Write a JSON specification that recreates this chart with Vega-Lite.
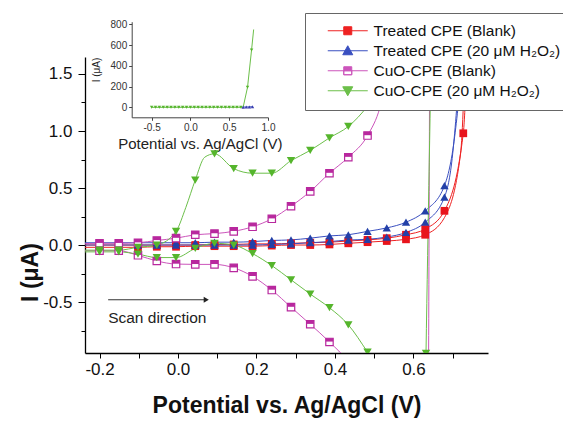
{
  "$schema": "https://vega.github.io/schema/vega-lite/v6.json",
  "width": 403,
  "height": 296,
  "autosize": {"type": "none"},
  "padding": {"left": 85, "top": 57, "right": 75, "bottom": 68},
  "background": "white",
  "config": {
    "font": "Liberation Sans",
    "view": {"stroke": null},
    "axis": {"grid": false, "domainColor": "#000", "tickColor": "#000", "labelColor": "#111", "titleColor": "#111", "labelFont": "Liberation Sans", "titleFont": "Liberation Sans", "labelFlush": false, "labelOverlap": false}
  },
  "datasets": {
    "main": [
      {"s":"A","t":"u","x":-0.25,"y":0.0,"k":0},{"s":"A","t":"u","x":-0.2,"y":0.0,"k":1},{"s":"A","t":"u","x":-0.151,"y":0.0,"k":1},{"s":"A","t":"u","x":-0.102,"y":0.0,"k":1},{"s":"A","t":"u","x":-0.054,"y":0.0,"k":1},{"s":"A","t":"u","x":-0.005,"y":0.0,"k":1},{"s":"A","t":"u","x":0.044,"y":0.0,"k":1},{"s":"A","t":"u","x":0.093,"y":0.005,"k":1},{"s":"A","t":"u","x":0.142,"y":0.005,"k":1},{"s":"A","t":"u","x":0.19,"y":0.01,"k":1},{"s":"A","t":"u","x":0.239,"y":0.01,"k":1},{"s":"A","t":"u","x":0.288,"y":0.015,"k":1},{"s":"A","t":"u","x":0.337,"y":0.02,"k":1},{"s":"A","t":"u","x":0.386,"y":0.025,"k":1},{"s":"A","t":"u","x":0.434,"y":0.035,"k":1},{"s":"A","t":"u","x":0.483,"y":0.045,"k":1},{"s":"A","t":"u","x":0.532,"y":0.06,"k":1},{"s":"A","t":"u","x":0.581,"y":0.09,"k":1},{"s":"A","t":"u","x":0.63,"y":0.14,"k":1},{"s":"A","t":"u","x":0.679,"y":0.3,"k":1},{"s":"A","t":"u","x":0.727,"y":0.98,"k":1},{"s":"A","t":"u","x":0.742,"y":2.3,"k":0},
      {"s":"A","t":"l","x":-0.25,"y":-0.02,"k":0},{"s":"A","t":"l","x":-0.2,"y":-0.02,"k":1},{"s":"A","t":"l","x":-0.151,"y":-0.02,"k":1},{"s":"A","t":"l","x":-0.102,"y":-0.02,"k":1},{"s":"A","t":"l","x":-0.054,"y":-0.015,"k":1},{"s":"A","t":"l","x":-0.005,"y":-0.015,"k":1},{"s":"A","t":"l","x":0.044,"y":-0.01,"k":1},{"s":"A","t":"l","x":0.093,"y":-0.01,"k":1},{"s":"A","t":"l","x":0.142,"y":-0.01,"k":1},{"s":"A","t":"l","x":0.19,"y":-0.01,"k":1},{"s":"A","t":"l","x":0.239,"y":-0.005,"k":1},{"s":"A","t":"l","x":0.288,"y":0.0,"k":1},{"s":"A","t":"l","x":0.337,"y":0.0,"k":1},{"s":"A","t":"l","x":0.386,"y":0.005,"k":1},{"s":"A","t":"l","x":0.434,"y":0.015,"k":1},{"s":"A","t":"l","x":0.483,"y":0.025,"k":1},{"s":"A","t":"l","x":0.532,"y":0.035,"k":1},{"s":"A","t":"l","x":0.581,"y":0.05,"k":1},{"s":"A","t":"l","x":0.63,"y":0.09,"k":1},{"s":"A","t":"l","x":0.679,"y":0.24,"k":0},{"s":"A","t":"l","x":0.72,"y":0.8,"k":0},{"s":"A","t":"l","x":0.735,"y":2.0,"k":0},
      {"s":"B","t":"u","x":-0.25,"y":0.02,"k":0},{"s":"B","t":"u","x":-0.2,"y":0.02,"k":1},{"s":"B","t":"u","x":-0.151,"y":0.02,"k":1},{"s":"B","t":"u","x":-0.102,"y":0.02,"k":1},{"s":"B","t":"u","x":-0.054,"y":0.02,"k":1},{"s":"B","t":"u","x":-0.005,"y":0.02,"k":1},{"s":"B","t":"u","x":0.044,"y":0.02,"k":1},{"s":"B","t":"u","x":0.093,"y":0.025,"k":1},{"s":"B","t":"u","x":0.142,"y":0.025,"k":1},{"s":"B","t":"u","x":0.19,"y":0.03,"k":1},{"s":"B","t":"u","x":0.239,"y":0.04,"k":1},{"s":"B","t":"u","x":0.288,"y":0.045,"k":1},{"s":"B","t":"u","x":0.337,"y":0.06,"k":1},{"s":"B","t":"u","x":0.386,"y":0.08,"k":1},{"s":"B","t":"u","x":0.434,"y":0.09,"k":1},{"s":"B","t":"u","x":0.483,"y":0.12,"k":1},{"s":"B","t":"u","x":0.532,"y":0.15,"k":1},{"s":"B","t":"u","x":0.581,"y":0.2,"k":1},{"s":"B","t":"u","x":0.63,"y":0.3,"k":1},{"s":"B","t":"u","x":0.679,"y":0.52,"k":1},{"s":"B","t":"u","x":0.705,"y":0.95,"k":0},{"s":"B","t":"u","x":0.727,"y":1.75,"k":0},{"s":"B","t":"u","x":0.74,"y":2.5,"k":0},
      {"s":"B","t":"l","x":-0.25,"y":0.0,"k":0},{"s":"B","t":"l","x":-0.2,"y":0.0,"k":1},{"s":"B","t":"l","x":-0.151,"y":0.0,"k":1},{"s":"B","t":"l","x":-0.102,"y":0.0,"k":1},{"s":"B","t":"l","x":-0.054,"y":0.0,"k":1},{"s":"B","t":"l","x":-0.005,"y":0.0,"k":1},{"s":"B","t":"l","x":0.044,"y":0.0,"k":1},{"s":"B","t":"l","x":0.093,"y":0.0,"k":1},{"s":"B","t":"l","x":0.142,"y":0.0,"k":1},{"s":"B","t":"l","x":0.19,"y":0.0,"k":1},{"s":"B","t":"l","x":0.239,"y":0.005,"k":1},{"s":"B","t":"l","x":0.288,"y":0.01,"k":1},{"s":"B","t":"l","x":0.337,"y":0.02,"k":1},{"s":"B","t":"l","x":0.386,"y":0.03,"k":1},{"s":"B","t":"l","x":0.434,"y":0.044,"k":1},{"s":"B","t":"l","x":0.483,"y":0.05,"k":1},{"s":"B","t":"l","x":0.532,"y":0.07,"k":1},{"s":"B","t":"l","x":0.581,"y":0.11,"k":1},{"s":"B","t":"l","x":0.63,"y":0.2,"k":1},{"s":"B","t":"l","x":0.679,"y":0.42,"k":1},{"s":"B","t":"l","x":0.7,"y":0.8,"k":0},{"s":"B","t":"l","x":0.72,"y":1.75,"k":0},{"s":"B","t":"l","x":0.73,"y":2.5,"k":0},
      {"s":"C","t":"u","x":-0.25,"y":0.01,"k":0},{"s":"C","t":"u","x":-0.2,"y":0.015,"k":1},{"s":"C","t":"u","x":-0.151,"y":0.015,"k":1},{"s":"C","t":"u","x":-0.102,"y":0.02,"k":1},{"s":"C","t":"u","x":-0.054,"y":0.04,"k":1},{"s":"C","t":"u","x":-0.005,"y":0.06,"k":1},{"s":"C","t":"u","x":0.044,"y":0.09,"k":1},{"s":"C","t":"u","x":0.093,"y":0.1,"k":1},{"s":"C","t":"u","x":0.142,"y":0.12,"k":1},{"s":"C","t":"u","x":0.19,"y":0.16,"k":1},{"s":"C","t":"u","x":0.239,"y":0.23,"k":1},{"s":"C","t":"u","x":0.288,"y":0.34,"k":1},{"s":"C","t":"u","x":0.337,"y":0.47,"k":1},{"s":"C","t":"u","x":0.386,"y":0.63,"k":1},{"s":"C","t":"u","x":0.434,"y":0.77,"k":1},{"s":"C","t":"u","x":0.483,"y":0.96,"k":1},{"s":"C","t":"u","x":0.515,"y":1.21,"k":0},{"s":"C","t":"u","x":0.545,"y":1.7,"k":0},{"s":"C","t":"u","x":0.58,"y":2.5,"k":0},
      {"s":"C","t":"l","x":-0.25,"y":-0.05,"k":0},{"s":"C","t":"l","x":-0.2,"y":-0.05,"k":1},{"s":"C","t":"l","x":-0.151,"y":-0.05,"k":1},{"s":"C","t":"l","x":-0.102,"y":-0.09,"k":1},{"s":"C","t":"l","x":-0.054,"y":-0.14,"k":1},{"s":"C","t":"l","x":-0.005,"y":-0.167,"k":1},{"s":"C","t":"l","x":0.044,"y":-0.17,"k":1},{"s":"C","t":"l","x":0.093,"y":-0.17,"k":1},{"s":"C","t":"l","x":0.142,"y":-0.2,"k":1},{"s":"C","t":"l","x":0.19,"y":-0.275,"k":1},{"s":"C","t":"l","x":0.239,"y":-0.395,"k":1},{"s":"C","t":"l","x":0.288,"y":-0.545,"k":1},{"s":"C","t":"l","x":0.337,"y":-0.695,"k":1},{"s":"C","t":"l","x":0.386,"y":-0.85,"k":1},{"s":"C","t":"l","x":0.434,"y":-1.02,"k":1},{"s":"C","t":"l","x":0.5,"y":-1.35,"k":0},{"s":"C","t":"l","x":0.6,"y":-2.2,"k":0},{"s":"C","t":"l","x":0.634,"y":-3.0,"k":0},{"s":"C","t":"l","x":0.645,"y":6.0,"k":0},
      {"s":"D","t":"u","x":-0.25,"y":-0.045,"k":0},{"s":"D","t":"u","x":-0.2,"y":-0.045,"k":1},{"s":"D","t":"u","x":-0.151,"y":-0.045,"k":1},{"s":"D","t":"u","x":-0.102,"y":-0.02,"k":1},{"s":"D","t":"u","x":-0.054,"y":0.0,"k":1},{"s":"D","t":"u","x":-0.005,"y":0.12,"k":1},{"s":"D","t":"u","x":0.02,"y":0.33,"k":0},{"s":"D","t":"u","x":0.044,"y":0.57,"k":1},{"s":"D","t":"u","x":0.068,"y":0.77,"k":0},{"s":"D","t":"u","x":0.093,"y":0.8,"k":1},{"s":"D","t":"u","x":0.142,"y":0.67,"k":1},{"s":"D","t":"u","x":0.19,"y":0.63,"k":1},{"s":"D","t":"u","x":0.239,"y":0.63,"k":1},{"s":"D","t":"u","x":0.288,"y":0.74,"k":1},{"s":"D","t":"u","x":0.337,"y":0.83,"k":1},{"s":"D","t":"u","x":0.386,"y":0.94,"k":1},{"s":"D","t":"u","x":0.434,"y":1.04,"k":1},{"s":"D","t":"u","x":0.483,"y":1.22,"k":1},{"s":"D","t":"u","x":0.532,"y":1.5,"k":0},{"s":"D","t":"u","x":0.58,"y":1.9,"k":0},{"s":"D","t":"u","x":0.63,"y":2.6,"k":0},
      {"s":"D","t":"l","x":-0.25,"y":-0.06,"k":0},{"s":"D","t":"l","x":-0.2,"y":-0.06,"k":1},{"s":"D","t":"l","x":-0.151,"y":-0.06,"k":1},{"s":"D","t":"l","x":-0.102,"y":-0.08,"k":1},{"s":"D","t":"l","x":-0.054,"y":-0.11,"k":1},{"s":"D","t":"l","x":-0.005,"y":-0.11,"k":1},{"s":"D","t":"l","x":0.044,"y":-0.03,"k":1},{"s":"D","t":"l","x":0.093,"y":0.015,"k":1},{"s":"D","t":"l","x":0.142,"y":0.0,"k":1},{"s":"D","t":"l","x":0.19,"y":-0.075,"k":1},{"s":"D","t":"l","x":0.239,"y":-0.18,"k":1},{"s":"D","t":"l","x":0.288,"y":-0.305,"k":1},{"s":"D","t":"l","x":0.337,"y":-0.43,"k":1},{"s":"D","t":"l","x":0.386,"y":-0.55,"k":1},{"s":"D","t":"l","x":0.434,"y":-0.7,"k":1},{"s":"D","t":"l","x":0.483,"y":-0.94,"k":1},{"s":"D","t":"l","x":0.53,"y":-1.2,"k":0},{"s":"D","t":"l","x":0.58,"y":-1.6,"k":0},{"s":"D","t":"l","x":0.625,"y":-2.5,"k":0},{"s":"D","t":"l","x":0.632,"y":-0.95,"k":1},{"s":"D","t":"l","x":0.665,"y":5.0,"k":0}
    ],
    "inset": [
      {"s":"D","x":-0.5,"y":0,"k":1},{"s":"D","x":-0.45,"y":0,"k":1},{"s":"D","x":-0.4,"y":0,"k":1},{"s":"D","x":-0.35,"y":0,"k":1},{"s":"D","x":-0.3,"y":0,"k":1},{"s":"D","x":-0.25,"y":0,"k":1},{"s":"D","x":-0.2,"y":0,"k":1},{"s":"D","x":-0.15,"y":0,"k":1},{"s":"D","x":-0.1,"y":0,"k":1},{"s":"D","x":-0.05,"y":0,"k":1},{"s":"D","x":0.0,"y":0,"k":1},{"s":"D","x":0.05,"y":0,"k":1},{"s":"D","x":0.1,"y":0,"k":1},{"s":"D","x":0.15,"y":0,"k":1},{"s":"D","x":0.2,"y":0,"k":1},{"s":"D","x":0.25,"y":0,"k":1},{"s":"D","x":0.3,"y":0,"k":1},{"s":"D","x":0.35,"y":0,"k":1},{"s":"D","x":0.4,"y":0,"k":1},{"s":"D","x":0.45,"y":0,"k":1},{"s":"D","x":0.5,"y":0,"k":1},{"s":"D","x":0.55,"y":0,"k":1},{"s":"D","x":0.6,"y":0,"k":1},{"s":"D","x":0.65,"y":0,"k":1},{"s":"D","x":0.68,"y":2,"k":0},{"s":"D","x":0.736,"y":193,"k":1},{"s":"D","x":0.788,"y":552,"k":1},{"s":"D","x":0.815,"y":750,"k":0},
      {"s":"B","x":0.68,"y":2,"k":1},{"s":"B","x":0.72,"y":3,"k":1},{"s":"B","x":0.76,"y":4,"k":1},{"s":"B","x":0.8,"y":6,"k":1}
    ]
  },
  "layer": [
    {
      "layer": [
        {
          "data": {"name": "main"},
          "mark": {"type": "line", "interpolate": "monotone", "strokeWidth": 1, "clip": true},
          "encoding": {
            "x": {"field": "x", "type": "quantitative", "scale": {"domain": [-0.237, 0.79], "nice": false, "zero": false},
              "axis": {"values": [-0.2,-0.1,0,0.1,0.2,0.3,0.4,0.5,0.6,0.7], "tickCount": 30, "labelExpr": "round(datum.value*10)%2==0 ? replace(format(datum.value,'.1f'),'\u2212','-') : ''", "tickSize": 5, "labelFontSize": 17, "labelPadding": 3, "domainWidth": 1.3, "title": "Potential vs. Ag/AgCl (V)", "titleFontSize": 23, "titleFontWeight": "bold", "titleY": 52, "titleBaseline": "middle"}},
            "y": {"field": "y", "type": "quantitative", "scale": {"domain": [-0.947, 1.649], "nice": false, "zero": false},
              "axis": {"values": [-0.75,-0.5,-0.25,0,0.25,0.5,0.75,1,1.25,1.5], "tickCount": 30, "labelExpr": "round(datum.value*4)%2==0 ? replace(format(datum.value,'.1f'),'\u2212','-') : ''", "tickSize": {"condition": {"test": "round(datum.value*4)%2!=0", "value": 4}, "value": 7}, "labelFontSize": 17, "labelPadding": 6, "domainWidth": 1.3, "title": "I (\u03bcA)", "titleFontSize": 23, "titleFontWeight": "bold", "titleX": -55, "titleY": 215, "titleBaseline": "middle", "titleAlign": "center"}},
            "color": {"field": "s", "type": "nominal",
              "scale": {"domain": ["A","B","C","D"], "range": ["#ee2222","#3a4fc0","#cc55bb","#6cbf4a"]},
              "legend": {
                "orient": "none", "legendX": 220, "legendY": -44, "title": null,
                "labelExpr": "datum.value=='A' ? 'Treated CPE (Blank)' : datum.value=='B' ? 'Treated CPE (20 \u03bcM H\u2082O\u2082)' : datum.value=='C' ? 'CuO-CPE (Blank)' : 'CuO-CPE (20 \u03bcM H\u2082O\u2082)'",
                "labelFontSize": 15.5, "labelFont": "Liberation Sans", "labelColor": "#111", "labelLimit": 300,
                "symbolSize": 100, "symbolOffset": 25, "labelOffset": 18, "padding": 10, "rowPadding": 3,
                "strokeColor": "#666", "fillColor": "white",
                "encode": {"symbols": {"update": {
                  "shape": {"signal": "datum.value=='A' ? 'M-4,0H4M-0.8,-0.8H0.8V0.8H-0.8Z' : datum.value=='B' ? 'M-4,0H4M0,-1L1,0.8H-1Z' : datum.value=='C' ? 'M-4,0H4M-0.8,-0.8H0.8V0H-0.8ZM-0.8,0V0.8H0.8V0V0.8H-0.8V0' : 'M-4,0H4M-1,-0.8H1L0,1Z'"},
                  "fill": {"signal": "scale('color', datum.value)"},
                  "stroke": {"signal": "scale('color', datum.value)"},
                  "strokeWidth": {"value": 1},
                  "opacity": {"value": 1}
                }}}
              }},
            "detail": {"field": "t"}
          }
        },
        {
          "data": {"name": "main"},
          "transform": [{"filter": "datum.s=='A' && datum.k==1"}],
          "mark": {"type": "point", "shape": "square", "filled": true, "size": 60, "color": "#e8141c", "opacity": 1, "clip": true},
          "encoding": {"x": {"field": "x", "type": "quantitative"}, "y": {"field": "y", "type": "quantitative"}}
        },
        {
          "data": {"name": "main"},
          "transform": [{"filter": "datum.s=='B' && datum.k==1"}],
          "mark": {"type": "point", "shape": "triangle-up", "filled": true, "size": 70, "color": "#2340a8", "opacity": 1, "clip": true},
          "encoding": {"x": {"field": "x", "type": "quantitative"}, "y": {"field": "y", "type": "quantitative"}}
        },
        {
          "data": {"name": "main"},
          "transform": [{"filter": "datum.s=='C' && datum.k==1"}],
          "mark": {"type": "point", "shape": "square", "filled": true, "fill": "white", "stroke": "#b8289e", "strokeWidth": 1.2, "size": 55, "opacity": 1, "clip": true},
          "encoding": {"x": {"field": "x", "type": "quantitative"}, "y": {"field": "y", "type": "quantitative"}}
        },
        {
          "data": {"name": "main"},
          "transform": [{"filter": "datum.s=='C' && datum.k==1"}],
          "mark": {"type": "point", "shape": "M-1,-1H1V-0.1H-1Z", "filled": true, "size": 55, "color": "#b8289e", "opacity": 1, "clip": true},
          "encoding": {"x": {"field": "x", "type": "quantitative"}, "y": {"field": "y", "type": "quantitative"}}
        },
        {
          "data": {"name": "main"},
          "transform": [{"filter": "datum.s=='D' && datum.k==1"}],
          "mark": {"type": "point", "shape": "triangle-down", "filled": true, "size": 70, "color": "#55b52c", "opacity": 1, "clip": true},
          "encoding": {"x": {"field": "x", "type": "quantitative"}, "y": {"field": "y", "type": "quantitative"}}
        },
        {
          "data": {"values": [{"x": -0.178, "x2": 0.068, "y": -0.48}]},
          "mark": {"type": "rule", "color": "#333", "strokeWidth": 1},
          "encoding": {"x": {"field": "x", "type": "quantitative"}, "x2": {"field": "x2"}, "y": {"field": "y", "type": "quantitative"}}
        },
        {
          "data": {"values": [{"x": 0.072, "y": -0.48}]},
          "mark": {"type": "point", "shape": "triangle-right", "filled": true, "size": 35, "color": "#222", "opacity": 1},
          "encoding": {"x": {"field": "x", "type": "quantitative"}, "y": {"field": "y", "type": "quantitative"}}
        },
        {
          "data": {"values": [{"x": -0.178, "y": -0.64, "label": "Scan direction"}]},
          "mark": {"type": "text", "align": "left", "baseline": "middle", "fontSize": 15.5, "font": "Liberation Sans", "color": "#222"},
          "encoding": {"x": {"field": "x", "type": "quantitative"}, "y": {"field": "y", "type": "quantitative"}, "text": {"field": "label"}}
        }
      ]
    },
    {
      "layer": [
        {
          "data": {"name": "inset"},
          "transform": [{"filter": "datum.s=='D'"}],
          "mark": {"type": "line", "strokeWidth": 1, "color": "#6cbf4a"},
          "encoding": {
            "x": {"field": "x", "type": "quantitative", "scale": {"domain": [-0.757, 1.0], "range": [46.7, 183], "nice": false, "zero": false},
              "axis": {"orient": "bottom", "offset": -235.7, "values": [-0.5, 0, 0.5, 1], "tickCount": 30, "labelExpr": "replace(format(datum.value,'.1f'),'\u2212','-')", "tickSize": 3, "labelFontSize": 10, "labelPadding": 2, "labelColor": "#333", "domainColor": "#444", "tickColor": "#444", "title": "Potential vs. Ag/AgCl (V)", "titleFontSize": 15, "titleFontWeight": "normal", "titleY": 26, "titleBaseline": "middle", "titleColor": "#222"}},
            "y": {"field": "y", "type": "quantitative", "scale": {"domain": [-96, 825], "range": [60.3, -35.3], "nice": false, "zero": false},
              "axis": {"orient": "left", "offset": -46.7, "values": [0, 200, 400, 600, 800], "tickCount": 30, "tickSize": 3, "labelFontSize": 10, "labelPadding": 2, "labelColor": "#333", "domainColor": "#444", "tickColor": "#444", "title": "I (\u03bcA)", "titleFontSize": 10, "titleFontWeight": "normal", "titleX": -35, "titleBaseline": "middle", "titleColor": "#222"}}
          }
        },
        {
          "data": {"name": "inset"},
          "transform": [{"filter": "datum.s=='B'"}],
          "mark": {"type": "line", "strokeWidth": 1, "color": "#3a4fc0"},
          "encoding": {"x": {"field": "x", "type": "quantitative"}, "y": {"field": "y", "type": "quantitative"}}
        },
        {
          "data": {"name": "inset"},
          "transform": [{"filter": "datum.s=='D' && datum.k==1"}],
          "mark": {"type": "point", "shape": "triangle-down", "filled": true, "size": 12, "color": "#55b52c", "opacity": 1},
          "encoding": {"x": {"field": "x", "type": "quantitative"}, "y": {"field": "y", "type": "quantitative"}}
        },
        {
          "data": {"name": "inset"},
          "transform": [{"filter": "datum.s=='B' && datum.k==1"}],
          "mark": {"type": "point", "shape": "triangle-up", "filled": true, "size": 12, "color": "#3a3fb0", "opacity": 1},
          "encoding": {"x": {"field": "x", "type": "quantitative"}, "y": {"field": "y", "type": "quantitative"}}
        }
      ]
    }
  ],
  "resolve": {"scale": {"x": "independent", "y": "independent"}}
}
